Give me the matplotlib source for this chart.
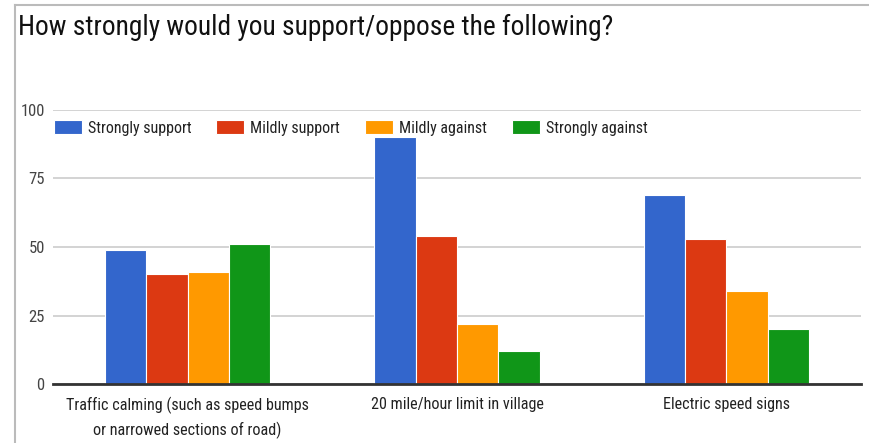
import numpy as np
import matplotlib.pyplot as plt
from matplotlib.lines import Line2D

plt.rcParams['font.family'] = ['Liberation Sans Narrow', 'Roboto Condensed', 'Liberation Sans', 'DejaVu Sans']

categories = ['Traffic calming (such as speed bumps\nor narrowed sections of road)',
              '20 mile/hour limit in village',
              'Electric speed signs']
series = ['Strongly support', 'Mildly support', 'Mildly against', 'Strongly against']
strongly_support = [49, 90, 69]
mildly_support = [40, 54, 53]
mildly_against = [41, 22, 34]
strongly_against = [51, 12, 20]
yticks = [0, 25, 50, 75, 100]

colors = ['#3366CC', '#DC3912', '#FF9900', '#109618']
values = [strongly_support, mildly_support, mildly_against, strongly_against]

W, H = 870, 443
fig = plt.figure(figsize=(W / 100, H / 100), dpi=100)
ax = fig.add_axes([53 / W, 1 - 384 / H, (861 - 53) / W, (384 - 110) / H])

x = np.arange(len(categories))
step = 0.1535
for i, (name, vals, c) in enumerate(zip(series, values, colors)):
    ax.bar(x + (i - 1.5) * step, vals, width=step, color=c, edgecolor='white',
           linewidth=0.8, label=name, zorder=3)

ax.set_xlim(-0.5, 2.5)
ax.set_ylim(0, 100)
ax.set_yticks(yticks)
ax.set_yticklabels([str(t) for t in yticks], fontsize=12, color='#444444')
ax.set_xticks(x)
ax.set_xticklabels(categories, fontsize=11.6, color='#222222', linespacing=1.6)
ax.tick_params(axis='both', length=0)
ax.tick_params(axis='y', pad=6)
ax.tick_params(axis='x', pad=9)
ax.grid(axis='y', color='#cccccc', linewidth=1.2, zorder=0)
for s in ['top', 'right', 'left']:
    ax.spines[s].set_visible(False)
ax.spines['bottom'].set_color('#333333')
ax.spines['bottom'].set_linewidth(2)
ax.spines['bottom'].set_zorder(4)

leg = fig.legend(loc='center left', bbox_to_anchor=(54 / W, 1 - 128 / H), ncol=4,
                 frameon=False, fontsize=11.5, borderpad=0, borderaxespad=0,
                 handlelength=1.75, handleheight=1.0, handletextpad=0.38,
                 columnspacing=1.55)
for t in leg.get_texts():
    t.set_color('#222222')

fig.text(18 / W, 1 - 27 / H, 'How strongly would you support/oppose the following?',
         fontsize=19.7, color='#111111', va='center', ha='left')

# frame of the screenshot
fig.add_artist(Line2D([15 / W, 15 / W], [0, 1 - 5 / H], color='#bbbbbb', linewidth=1.5))
fig.add_artist(Line2D([15 / W, 1], [1 - 5 / H, 1 - 5 / H], color='#bbbbbb', linewidth=1.5))

fig.savefig('out.png', dpi=100)
